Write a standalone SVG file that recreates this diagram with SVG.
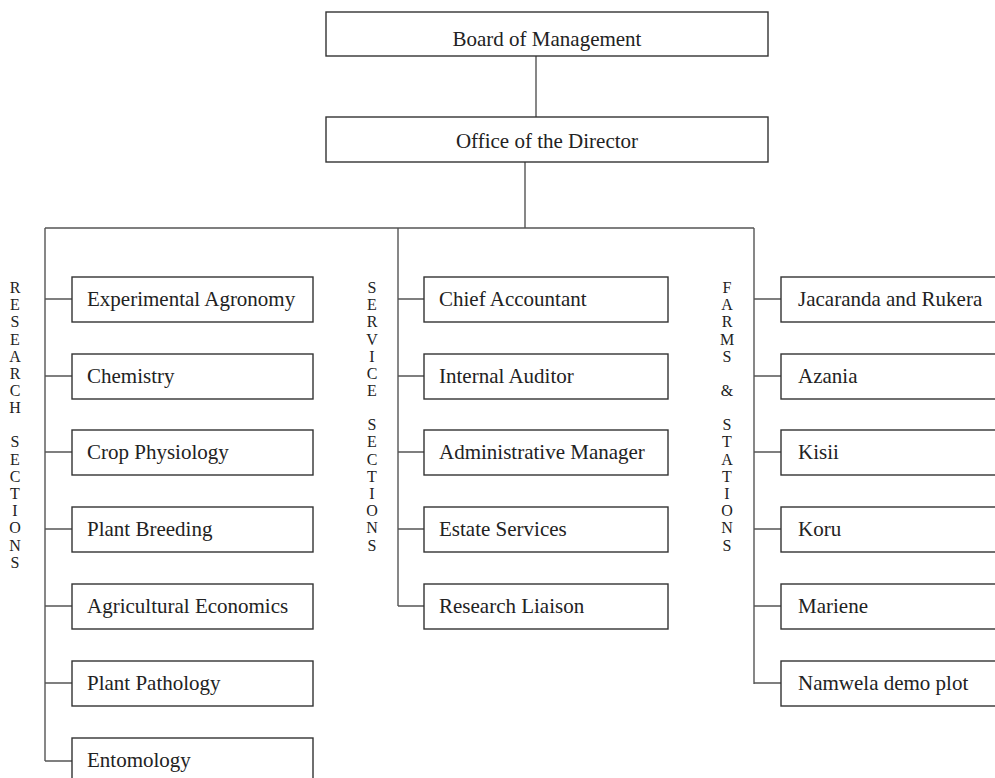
<svg xmlns="http://www.w3.org/2000/svg" width="995" height="778" viewBox="0 0 995 778">
<style>
.box{fill:#fff;stroke:#333;stroke-width:1.4}
.t{font-family:"Liberation Serif","Times New Roman",serif;font-size:21px;fill:#222}
.c{text-anchor:middle}
.v{font-family:"Liberation Serif","Times New Roman",serif;font-size:16px;fill:#222;text-anchor:middle}
.ln{stroke:#555;stroke-width:1.4;fill:none}
</style>
<rect width="995" height="778" fill="#fff"/>
<g id="connectors">
<path class="ln" d="M536 56V117M525 162V228M45 228H754M45 228V761M398 228V606M754 228V684"/>
<path class="ln" d="M45 299H72M45 376H72M45 452H72M45 529H72M45 606H72M45 683H72M45 761H72"/>
<path class="ln" d="M398 299H424M398 376H424M398 452H424M398 529H424M398 606H424"/>
<path class="ln" d="M754 299H781M754 376H781M754 452H781M754 529H781M754 606H781M754 683H781"/>
</g>
<g id="board"><rect class="box" x="326" y="12" width="442" height="44"/><text class="t c" x="547" y="46">Board of Management</text></g>
<g id="director"><rect class="box" x="326" y="117" width="442" height="45"/><text class="t c" x="547" y="148">Office of the Director</text></g>
<g id="label-research"><text class="v" x="15" y="293">R</text><text class="v" x="15" y="310">E</text><text class="v" x="15" y="327">S</text><text class="v" x="15" y="345">E</text><text class="v" x="15" y="362">A</text><text class="v" x="15" y="379">R</text><text class="v" x="15" y="396">C</text><text class="v" x="15" y="413">H</text><text class="v" x="15" y="447">S</text><text class="v" x="15" y="465">E</text><text class="v" x="15" y="482">C</text><text class="v" x="15" y="499">T</text><text class="v" x="15" y="516">I</text><text class="v" x="15" y="533">O</text><text class="v" x="15" y="551">N</text><text class="v" x="15" y="568">S</text></g>
<g id="label-service"><text class="v" x="372" y="293">S</text><text class="v" x="372" y="310">E</text><text class="v" x="372" y="327">R</text><text class="v" x="372" y="345">V</text><text class="v" x="372" y="362">I</text><text class="v" x="372" y="379">C</text><text class="v" x="372" y="396">E</text><text class="v" x="372" y="430">S</text><text class="v" x="372" y="447">E</text><text class="v" x="372" y="465">C</text><text class="v" x="372" y="482">T</text><text class="v" x="372" y="499">I</text><text class="v" x="372" y="516">O</text><text class="v" x="372" y="533">N</text><text class="v" x="372" y="551">S</text></g>
<g id="label-farms"><text class="v" x="727" y="293">F</text><text class="v" x="727" y="310">A</text><text class="v" x="727" y="327">R</text><text class="v" x="727" y="345">M</text><text class="v" x="727" y="362">S</text><text class="v" x="727" y="396">&amp;</text><text class="v" x="727" y="430">S</text><text class="v" x="727" y="447">T</text><text class="v" x="727" y="465">A</text><text class="v" x="727" y="482">T</text><text class="v" x="727" y="499">I</text><text class="v" x="727" y="516">O</text><text class="v" x="727" y="533">N</text><text class="v" x="727" y="551">S</text></g>
<g id="r1"><rect class="box" x="72" y="277" width="241" height="45"/><text class="t" x="87" y="306">Experimental Agronomy</text></g>
<g id="r2"><rect class="box" x="72" y="354" width="241" height="45"/><text class="t" x="87" y="383">Chemistry</text></g>
<g id="r3"><rect class="box" x="72" y="430" width="241" height="45"/><text class="t" x="87" y="459">Crop Physiology</text></g>
<g id="r4"><rect class="box" x="72" y="507" width="241" height="45"/><text class="t" x="87" y="536">Plant Breeding</text></g>
<g id="r5"><rect class="box" x="72" y="584" width="241" height="45"/><text class="t" x="87" y="613">Agricultural Economics</text></g>
<g id="r6"><rect class="box" x="72" y="661" width="241" height="45"/><text class="t" x="87" y="690">Plant Pathology</text></g>
<g id="r7"><rect class="box" x="72" y="738" width="241" height="45"/><text class="t" x="87" y="767">Entomology</text></g>
<g id="s1"><rect class="box" x="424" y="277" width="244" height="45"/><text class="t" x="439" y="306">Chief Accountant</text></g>
<g id="s2"><rect class="box" x="424" y="354" width="244" height="45"/><text class="t" x="439" y="383">Internal Auditor</text></g>
<g id="s3"><rect class="box" x="424" y="430" width="244" height="45"/><text class="t" x="439" y="459">Administrative Manager</text></g>
<g id="s4"><rect class="box" x="424" y="507" width="244" height="45"/><text class="t" x="439" y="536">Estate Services</text></g>
<g id="s5"><rect class="box" x="424" y="584" width="244" height="45"/><text class="t" x="439" y="613">Research Liaison</text></g>
<g id="f1"><rect class="box" x="781" y="277" width="240" height="45"/><text class="t" x="798" y="306">Jacaranda and Rukera</text></g>
<g id="f2"><rect class="box" x="781" y="354" width="240" height="45"/><text class="t" x="798" y="383">Azania</text></g>
<g id="f3"><rect class="box" x="781" y="430" width="240" height="45"/><text class="t" x="798" y="459">Kisii</text></g>
<g id="f4"><rect class="box" x="781" y="507" width="240" height="45"/><text class="t" x="798" y="536">Koru</text></g>
<g id="f5"><rect class="box" x="781" y="584" width="240" height="45"/><text class="t" x="798" y="613">Mariene</text></g>
<g id="f6"><rect class="box" x="781" y="661" width="240" height="45"/><text class="t" x="798" y="690">Namwela demo plot</text></g>
</svg>
